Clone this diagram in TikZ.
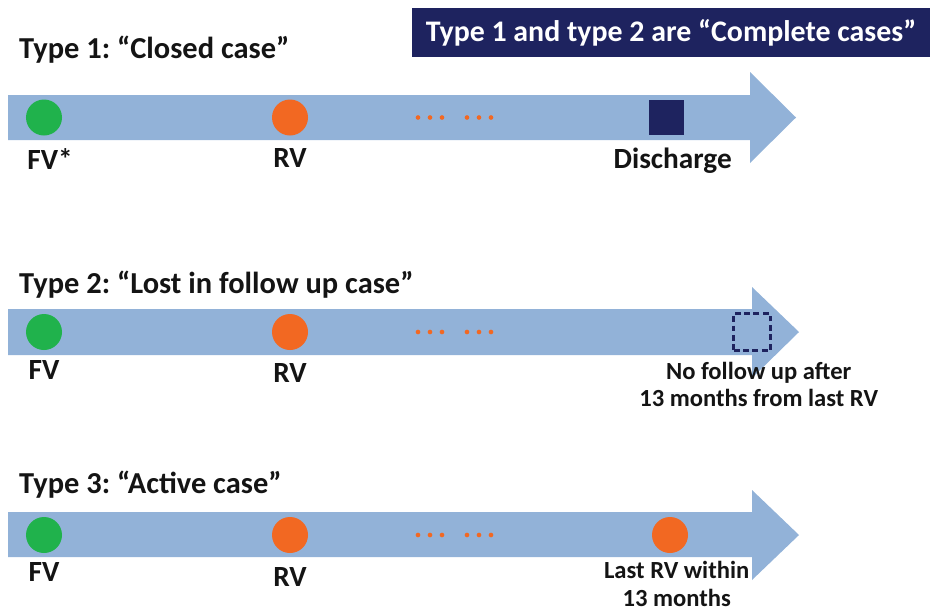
\documentclass[tikz,border=0pt]{standalone}
\usepackage{fontspec}
\setmainfont{Carlito}
\usetikzlibrary{positioning}
\frenchspacing

\begin{document}
\begin{tikzpicture}[x=0.03cm, y=-0.03cm, font=\bfseries]
        % --- CONFIGURATION ---
        \definecolor{timeBlue}{RGB}{146, 178, 216}   % bleu des flèches
        \definecolor{fvGreen}{RGB}{32, 178, 76}      % vert FV
        \definecolor{rvOrange}{RGB}{242, 104, 34}    % orange RV
        \definecolor{navyBox}{RGB}{30, 35, 95}       % bleu nuit
        \definecolor{textInk}{RGB}{20, 20, 20}
        \tikzset{
            visitFV/.style={circle, fill=fvGreen, minimum size=1.08cm, inner sep=0},
            visitRV/.style={circle, fill=rvOrange, minimum size=1.08cm, inner sep=0},
            visitLabel/.style={inner sep=0, text=textInk, font=\fontsize{25}{28}\bfseries},
            noteLabel/.style={inner sep=0, text=textInk, align=center, font=\fontsize{21}{23.5}\bfseries},
            typeTitle/.style={anchor=west, inner sep=0, text=textInk, font=\fontsize{26}{28}\bfseries},
            dotty/.style={fill=rvOrange, circle, inner sep=0, minimum size=0.14cm}
        }

        \useasboundingbox (0,0) rectangle (932,613);

        % Bandeau
        \node[fill=navyBox, text=white, minimum width=15.54cm, minimum height=1.47cm,
              inner sep=0, font=\fontsize{25.5}{28}\bfseries] (banner) at (671,32.5)
              {Type 1 and type 2 are “Complete cases”};

        % --- TYPE 1 ---
        \node[typeTitle] (title1) at (19,50) {Type 1: “Closed case”};
        \fill[timeBlue] (8,95) -- (750,95) -- (750,72) -- (796,117.5) -- (750,163)
            -- (750,140) -- (8,140) -- cycle;
        \node[visitFV] (fv1) at (44,117.5) {};
        \node[visitRV] (rv1) at (290,117.5) {};
        \node[fill=navyBox, minimum size=1.05cm, inner sep=0] (dis1) at (666,117.5) {};
        \node[visitLabel, below=0.38cm of fv1, xshift=0.18cm] (fvl1) {FV*};
        \node[visitLabel, below=0.38cm of rv1] (rvl1) {RV};
        \node[visitLabel, below=0.36cm of dis1, xshift=0.2cm] (disl1) {Discharge};
        \node[dotty] (d11) at (418,117.5) {};
        \node[dotty] (d12) at (430,117.5) {};
        \node[dotty] (d13) at (442,117.5) {};
        \node[dotty] (d14) at (467,117.5) {};
        \node[dotty] (d15) at (479,117.5) {};
        \node[dotty] (d16) at (491,117.5) {};

        % --- TYPE 2 ---
        \node[typeTitle] (title2) at (19,285) {Type 2: “Lost in follow up case”};
        \fill[timeBlue] (8,309) -- (752,309) -- (752,287) -- (799,332) -- (752,378)
            -- (752,355) -- (8,355) -- cycle;
        \node[visitFV] (fv2) at (44,332) {};
        \node[visitRV] (rv2) at (290,332) {};
        \node[draw=navyBox, line width=2.6pt, dash pattern=on 5pt off 3pt,
              minimum size=1.1cm, inner sep=0] (lost2) at (752,332) {};
        \node[visitLabel, below=0.3cm of fv2] (fvl2) {FV};
        \node[visitLabel, below=0.4cm of rv2] (rvl2) {RV};
        \node[noteLabel, below=0.3cm of lost2, xshift=0.2cm] (lostl2)
            {No follow up after\\13 months from last RV};
        \node[dotty] (d21) at (418,332) {};
        \node[dotty] (d22) at (430,332) {};
        \node[dotty] (d23) at (442,332) {};
        \node[dotty] (d24) at (467,332) {};
        \node[dotty] (d25) at (479,332) {};
        \node[dotty] (d26) at (491,332) {};

        % --- TYPE 3 ---
        \node[typeTitle] (title3) at (19,485) {Type 3: “Active case”};
        \fill[timeBlue] (8,512) -- (752,512) -- (752,490) -- (799,535) -- (752,580)
            -- (752,557) -- (8,557) -- cycle;
        \node[visitFV] (fv3) at (44,535) {};
        \node[visitRV] (rv3) at (290,535) {};
        \node[visitRV] (last3) at (670,535) {};
        \node[visitLabel, below=0.27cm of fv3] (fvl3) {FV};
        \node[visitLabel, below=0.42cm of rv3] (rvl3) {RV};
        \node[noteLabel, below=0.24cm of last3, xshift=0.2cm] (lastl3)
            {Last RV within\\13 months};
        \node[dotty] (d31) at (418,535) {};
        \node[dotty] (d32) at (430,535) {};
        \node[dotty] (d33) at (442,535) {};
        \node[dotty] (d34) at (467,535) {};
        \node[dotty] (d35) at (479,535) {};
        \node[dotty] (d36) at (491,535) {};
\end{tikzpicture}
\end{document}
